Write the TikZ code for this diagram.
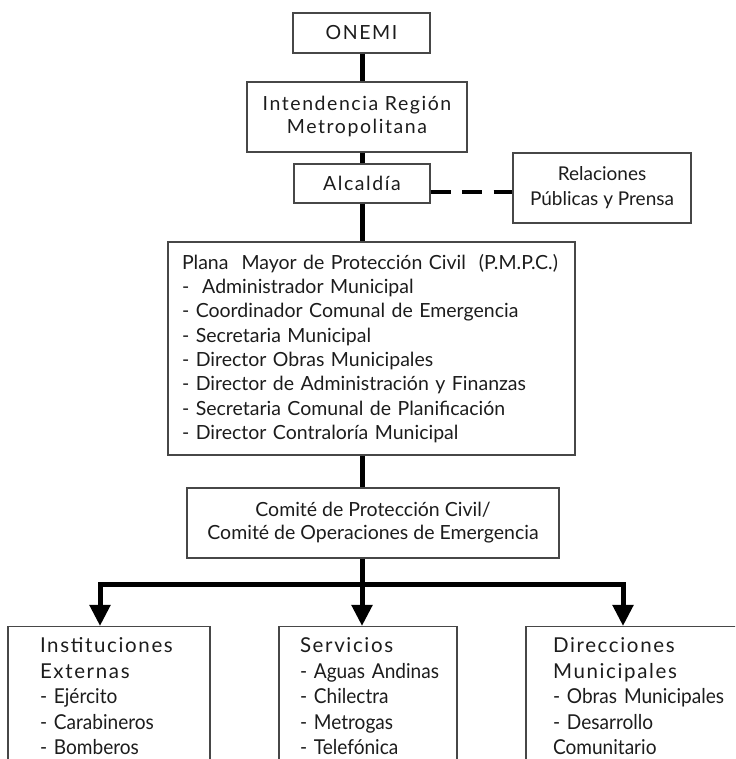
\documentclass[tikz,border=0pt]{standalone}
\usepackage{fontspec}
\setmainfont{Lato}
\newfontfamily\spacedfont[LetterSpace=8]{Lato}
\newfontfamily\narrowfont[FakeStretch=0.93]{Lato}
\usetikzlibrary{arrows.meta}
\definecolor{boxgray}{HTML}{474747}
\definecolor{inkgray}{HTML}{1C1C1C}
\newcommand{\headtxt}[1]{\mbox{\spacedfont #1}}
\tikzstyle{box}=[
	draw=boxgray,
	line width=1.2pt,
	text=inkgray,
	inner sep=0pt,
	align=center,
	font=\spacedfont\fontsize{19.5}{23}\selectfont
]
\tikzstyle{listbox}=[box, align=left, font=\fontsize{19.5}{24.3}\selectfont]
\tikzstyle{lowbox}=[box, align=left, anchor=north, inner ysep=11pt,
	font=\narrowfont\fontsize{20.5}{25.5}\selectfont]
\tikzstyle{link} = [draw=black, line width=5pt]
\tikzstyle{dlink} = [link, line width=4pt, dash pattern=on 20pt off 11.5pt]
\tikzstyle{arrow} = [link, -{Triangle[width=20pt,length=21pt]}]

\begin{document}
\begin{tikzpicture}[x=1pt,y=1pt,line join=miter]
	\useasboundingbox (0,0) rectangle (735,759);
	\clip (0,0) rectangle (735,759);

	\node[box, minimum width=137pt, minimum height=40pt] (onemi) at (361.5,726) {ONEMI};
	\node[box, minimum width=220pt, minimum height=70pt] (inten) at (357,642) {Intendencia Región\\Metropolitana};
	\node[box, minimum width=136pt, minimum height=39pt] (alc) at (362,575.5) {Alcaldía};
	\node[box, font=\fontsize{19}{25}\selectfont, minimum width=178pt, minimum height=70pt] (rel) at (602,571) {Relaciones\\Públicas y Prensa};

	\node[listbox, inner xsep=14pt, text width=379pt, minimum height=213pt] (plana) at (371.5,410.5) {%
		Plana\ \ Mayor de Protección Civil\ \ (P.M.P.C.)\\
		-\ \ Administrador Municipal\\
		- Coordinador Comunal de Emergencia\\
		- Secretaria Municipal\\
		- Director Obras Municipales\\
		- Director de Administración y Finanzas\\
		- Secretaria Comunal de Planificación\\
		- Director Contraloría Municipal};
	\node[box, font=\fontsize{19.5}{23}\selectfont, minimum width=372pt, minimum height=70pt] (comite) at (373,236) {Comité de Protección Civil/\\Comité de Operaciones de Emergencia};

	\node[lowbox, inner xsep=32pt, text width=138pt] (inst) at (109,133) {%
		\headtxt{Instituciones}\\\headtxt{Externas}\\\mbox{- Ejército}\\\mbox{- Carabineros}\\\mbox{- Bomberos}};
	\node[lowbox, inner xsep=21pt, text width=136pt] (serv) at (368,133) {%
		\headtxt{Servicios}\\\mbox{- Aguas Andinas}\\\mbox{- Chilectra}\\\mbox{- Metrogas}\\\mbox{- Telefónica}};
	\node[lowbox, inner xsep=27pt, text width=160pt] (dir) at (633,133) {%
		\headtxt{Direcciones}\\\headtxt{Municipales}\\\mbox{- Obras Municipales}\\\mbox{- Desarrollo}\\\mbox{Comunitario}};

	\coordinate (split) at (362,174);

	\path[link]
		(split |- onemi.south) -- (split |- inten.north)
		(split |- inten.south) -- (split |- alc.north)
		(split |- alc.south) -- (split |- plana.north)
		(split |- plana.south) -- (split |- comite.north)
		(split |- comite.south) -- (split);
	\draw[dlink] ([yshift=-8.5pt]alc.east) -- ([yshift=-4pt]rel.west);

	\draw[arrow] (split) -| ([xshift=-9pt]inst.north);
	\draw[arrow] (split) -- (split |- serv.north);
	\draw[arrow] (split) -| ([xshift=-10pt]dir.north);
\end{tikzpicture}
\end{document}
